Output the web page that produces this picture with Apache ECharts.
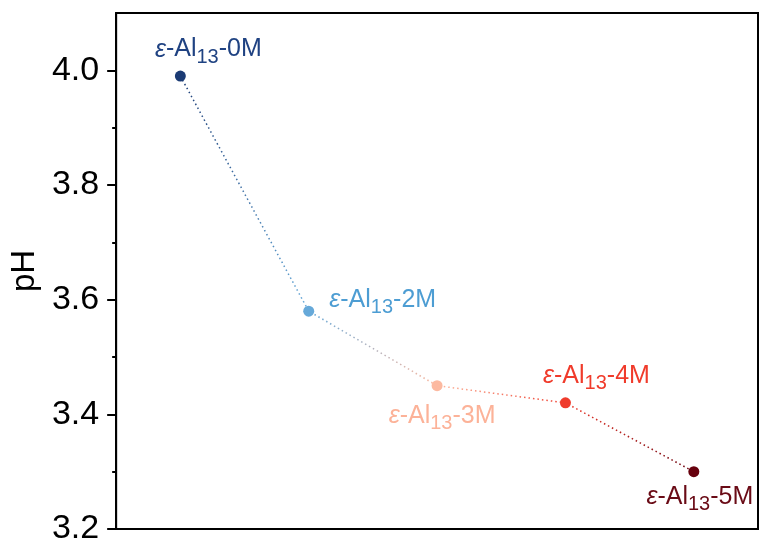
<!DOCTYPE html>
<html><head><meta charset="utf-8">
<script src="https://cdn.jsdelivr.net/npm/echarts@6/dist/echarts.min.js"></script>
<style>html,body{margin:0;padding:0;background:#fff}#c{width:760px;height:546px}</style>
</head><body><div id="c"></div>
<script>
// ---- data ----
const categories = ['0M', '2M', '3M', '4M', '5M'];
const phValues = [3.99, 3.58, 3.45, 3.42, 3.30];
const majorTicks = [3.2, 3.4, 3.6, 3.8, 4.0];
const minorTicks = [3.3, 3.5, 3.7, 3.9];

// ---- styling ----
const pointColors = ['#1b3b74', '#66a9d9', '#fcb9a0', '#ef3b2c', '#67000d'];
const labelColors = ['#1f4282', '#4d9dd3', '#fcb298', '#f03b2b', '#6a0b16'];
const labelOffsets = [[28, -24], [74, -9], [5, 33], [31, -24], [6, 28]];
const FONT = 'Liberation Sans, Arial, sans-serif';

const chart = echarts.init(document.getElementById('c'), null, {renderer: 'canvas'});

const data = phValues.map((v, i) => ({
  value: v,
  itemStyle: {color: pointColors[i]},
  label: {
    show: true,
    position: 'inside',
    formatter: '{e|ε}{t|-Al}{s|13}{t|-' + categories[i] + '}',
    rich: {
      e: {fontFamily: FONT, fontSize: 25, fontStyle: 'italic', color: labelColors[i], lineHeight: 30, verticalAlign: 'top'},
      t: {fontFamily: FONT, fontSize: 25, color: labelColors[i], lineHeight: 30, verticalAlign: 'top'},
      s: {fontFamily: FONT, fontSize: 20, color: labelColors[i], lineHeight: 30, verticalAlign: 'bottom'}
    }
  }
}));

const gradStops = pointColors.map((c, i) => ({offset: i / (pointColors.length - 1), color: c}));

chart.setOption({
  animation: false,
  backgroundColor: '#fff',
  grid: {left: 115, right: 2, top: 13, bottom: 15, show: true, borderColor: '#000', borderWidth: 2, backgroundColor: 'transparent'},
  xAxis: {
    type: 'category', data: categories, boundaryGap: true,
    axisLine: {show: true, lineStyle: {color: '#000', width: 2}},
    axisTick: {show: false}, axisLabel: {show: false}, splitLine: {show: false}
  },
  yAxis: [{
    type: 'value', min: 3.2, max: 4.1,
    name: 'pH', nameLocation: 'middle', nameGap: 70,
    nameTextStyle: {fontFamily: FONT, fontSize: 33, color: '#000'},
    axisLine: {show: true, lineStyle: {color: '#000', width: 2}},
    axisTick: {show: true, inside: false, length: 9, lineStyle: {color: '#000', width: 2}, customValues: majorTicks},
    axisLabel: {fontFamily: FONT, fontSize: 34, color: '#000', margin: 17, customValues: majorTicks,
      formatter: v => v.toFixed(1)},
    splitLine: {show: false}
  }, {
    type: 'value', min: 3.2, max: 4.1, position: 'left',
    axisLine: {show: false},
    axisTick: {show: true, inside: false, length: 4, lineStyle: {color: '#000', width: 2}, customValues: minorTicks},
    axisLabel: {show: false},
    splitLine: {show: false}
  }],
  series: [{
    type: 'line',
    yAxisIndex: 0,
    data: data,
    symbol: 'circle',
    symbolSize: 11,
    lineStyle: {
      width: 1.5,
      type: [1.5, 3],
      color: {type: 'linear', x: 0, y: 0, x2: 1, y2: 0, colorStops: gradStops}
    },
    labelLayout: function (p) {
      const o = labelOffsets[p.dataIndex];
      return {dx: o[0], dy: o[1], hideOverlap: false};
    },
    z: 3
  }]
});
</script></body></html>
